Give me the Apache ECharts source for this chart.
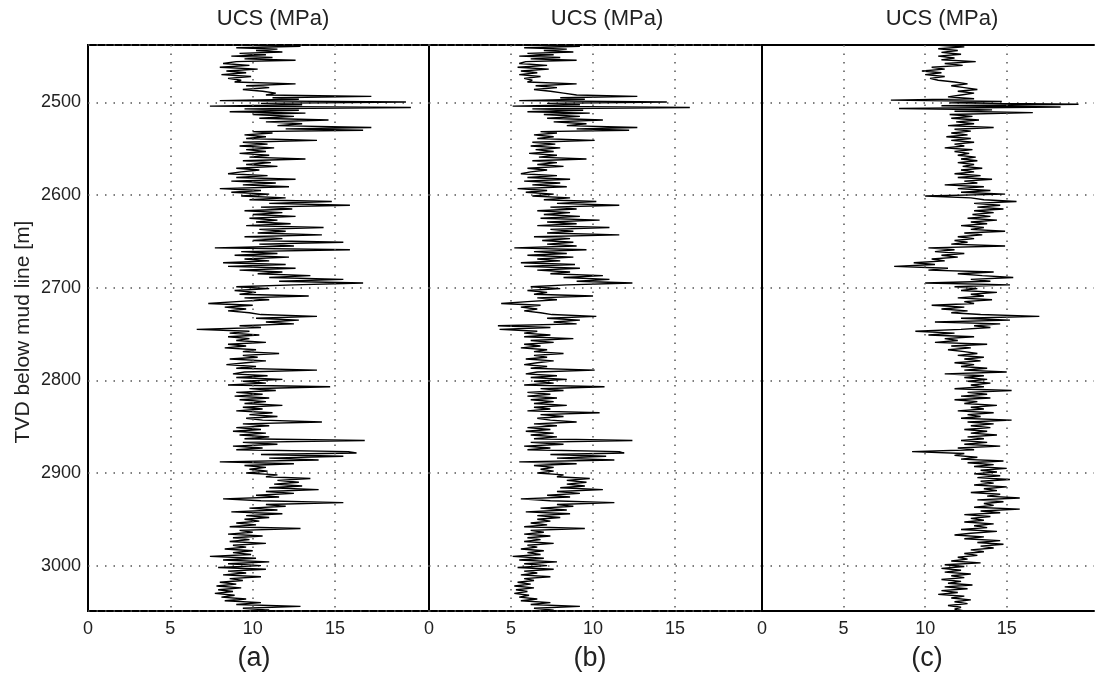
<!DOCTYPE html>
<html>
<head>
<meta charset="utf-8">
<script src="https://cdn.jsdelivr.net/npm/echarts@6/dist/echarts.min.js"></script>
<style>
html,body{margin:0;padding:0;background:#fff;}
#chart{width:1097px;height:675px;}
</style>
</head>
<body>
<div id="chart"></div>
<script>
// Depth (TVD below mud line, m) for panels (a) and (b)
var depthAB = [2438,2439.5,2441,2442.5,2444,2445.5,2447,2448.5,2450,2451.5,2453,2454.5,2456,2458,2460,2462,2464,2466,2468,2470,2472,2474,2476,2478,2480,2482,2484,2486,2488,2490,2492,2493.5,2495,2496.5,2498,2499.5,2501,2502.5,2504,2505.5,2507,2508.5,2510,2511.5,2513,2515,2517,2519,2521,2523,2525,2527,2528.5,2530,2531.5,2533,2535,2537,2539,2541,2543,2545,2547,2549,2551,2553,2555,2557,2559,2561,2563,2565,2567,2569,2571,2573,2575,2577,2579,2581,2583,2585,2587,2589,2591,2593,2595,2597,2599,2601,2603,2605,2607,2609,2611,2613,2615,2617,2619,2621,2623,2625,2627,2629,2631,2633,2635,2637,2639,2641,2643,2645,2647,2649,2651,2653,2655,2657,2659,2661,2663,2665,2667,2669,2671,2673,2675,2677,2679,2681,2683,2685,2687,2689,2691,2693,2695,2697,2699,2701,2703,2705,2707,2709,2711,2713,2715,2717,2719,2721,2723,2725,2727,2729,2731,2733,2735,2737,2739,2741,2743,2745,2747,2749,2751,2753,2755,2757,2759,2761,2763,2765,2767,2769,2771,2773,2775,2777,2779,2781,2783,2785,2787,2789,2791,2793,2795,2797,2799,2801,2803,2805,2807,2809,2811,2813,2815,2817,2819,2821,2823,2825,2827,2829,2831,2833,2835,2837,2839,2841,2843,2845,2847,2849,2851,2853,2855,2857,2859,2861,2863,2865,2867,2869,2871,2873,2875,2877,2878.5,2880,2882,2884,2886,2888,2890,2892,2894,2896,2898,2900,2902,2904,2906,2908,2910,2912,2914,2916,2918,2920,2922,2924,2926,2928,2930,2932,2934,2936,2938,2940,2942,2944,2946,2948,2950,2952,2954,2956,2958,2960,2962,2964,2966,2968,2970,2972,2974,2976,2978,2980,2982,2984,2986,2988,2990,2992,2994,2996,2998,3000,3002,3004,3006,3008,3010,3012,3014,3016,3018,3020,3022,3024,3026,3028,3030,3032,3034,3036,3038,3040,3042,3044,3046,3048,3049];

// UCS (MPa), panel (a)
var ucsA = [9.5,12.9,9.0,11.5,10.2,11.8,9.2,10.8,8.7,11.2,9.5,12.6,9.0,8.2,9.8,8.0,10.3,8.4,9.6,8.1,9.9,8.5,9.3,8.9,12.6,9.6,11.0,9.4,10.6,11.4,10.8,17.2,11.2,12.8,8.0,19.3,10.5,13.0,7.4,19.6,9.5,12.8,8.6,13.2,10.0,12.5,10.4,14.6,10.8,13.0,11.5,17.2,12.0,16.7,10.0,11.2,9.5,10.8,9.6,13.9,9.4,10.9,9.2,11.3,9.6,10.8,9.2,11.0,9.8,13.2,9.4,11.1,9.6,11.5,9.0,10.4,9.3,8.5,10.9,9.0,12.6,8.7,11.4,9.4,12.2,8.0,10.5,8.7,11.0,9.3,12.0,9.8,14.8,11.0,15.9,10.5,12.4,9.5,11.8,10.0,12.6,9.8,11.5,10.2,12.3,9.6,14.3,10.4,12.0,10.3,14.2,9.5,11.8,10.0,15.5,10.4,12.5,7.7,15.9,9.3,11.5,8.9,12.2,9.5,11.0,8.2,12.0,8.5,12.6,9.2,11.8,10.3,13.5,11.0,15.5,11.6,16.7,12.5,9.0,11.0,8.9,10.2,9.2,13.4,9.5,11.0,9.0,7.3,10.0,8.3,9.6,8.5,9.8,10.5,13.9,10.2,12.8,10.8,12.5,9.2,10.5,6.6,9.8,8.6,10.4,8.5,9.8,9.0,10.8,8.5,9.6,8.3,10.2,9.4,11.6,9.4,10.3,8.6,10.8,9.6,8.4,10.2,9.0,13.9,9.5,8.8,10.9,9.0,11.8,9.4,10.8,8.5,14.7,9.8,11.4,9.0,10.6,8.9,11.0,9.2,10.8,9.5,11.8,9.4,10.6,9.0,11.2,9.8,11.5,9.6,10.6,14.2,9.4,11.0,9.0,10.5,8.8,10.8,9.2,11.0,9.5,16.8,9.4,11.5,8.8,10.6,9.0,15.8,16.3,10.5,15.5,11.0,14.0,8.0,12.5,9.5,10.8,9.8,10.9,9.6,11.5,10.8,13.5,11.5,12.8,11.3,13.0,11.0,14.0,10.8,12.5,10.2,11.6,8.2,10.5,15.5,10.8,12.0,9.8,11.5,8.7,11.8,9.6,11.0,9.5,10.4,9.0,10.2,8.6,12.9,9.2,10.0,8.5,10.6,8.8,9.8,8.6,10.8,8.8,9.6,8.3,10.0,8.8,9.9,7.4,10.2,8.2,11.0,8.5,10.5,7.9,10.8,8.5,9.6,8.2,10.5,8.6,9.4,8.0,9.0,7.8,9.3,7.9,8.8,7.7,8.9,8.1,9.6,8.3,10.5,9.0,12.9,9.4,11.0,10.0];

// UCS (MPa), panel (b)
var ucsB = [6.2,9.2,5.8,8.4,7.0,8.8,6.0,7.6,5.5,8.0,6.2,9.0,5.9,5.5,7.2,5.4,7.3,5.6,6.6,5.5,6.8,5.8,6.3,6.0,9.0,6.5,7.8,6.4,7.4,8.2,9.0,12.7,8.0,9.5,5.5,14.5,7.2,9.2,5.1,15.9,6.3,9.4,6.0,9.8,7.0,9.2,7.2,10.6,7.6,9.6,8.4,12.7,9.0,12.2,6.8,7.8,6.4,7.6,6.6,10.1,6.3,7.7,6.2,8.0,6.5,7.6,6.1,7.8,6.7,9.6,6.3,7.8,6.6,8.2,6.0,7.2,6.2,5.6,7.8,6.0,8.6,5.8,8.0,6.3,8.4,5.4,7.2,5.9,7.6,6.3,8.6,7.0,10.2,7.8,11.6,7.4,9.0,6.6,8.6,7.0,9.2,6.8,10.4,7.2,9.0,6.6,11.0,7.4,8.8,7.2,11.6,6.4,8.6,6.9,8.8,7.2,9.0,5.2,9.6,6.4,8.4,6.0,8.8,6.6,8.0,5.6,8.9,5.8,9.2,6.6,8.6,7.4,10.6,8.2,11.0,9.0,12.4,8.4,6.2,8.0,6.0,7.2,6.4,10.0,6.6,7.8,6.0,4.4,6.8,5.6,6.6,5.8,6.8,7.5,10.2,7.2,9.2,7.6,9.0,4.2,7.4,4.3,6.6,5.8,7.4,5.8,8.8,6.2,7.6,5.8,6.8,5.6,7.2,6.4,8.2,6.4,7.2,5.9,7.6,6.6,5.8,7.2,6.2,10.1,6.6,5.9,7.8,6.2,8.4,6.4,7.6,5.8,10.7,6.8,8.2,6.0,7.4,6.0,7.8,6.2,7.6,6.4,8.4,6.4,7.4,6.0,10.4,6.8,8.2,6.6,7.4,9.0,6.4,7.8,6.0,7.4,5.9,7.6,6.2,7.8,6.4,12.4,6.2,8.2,5.8,7.4,6.0,11.6,11.9,7.4,10.8,7.8,11.3,5.5,9.0,6.4,7.6,6.8,7.6,6.6,8.2,7.8,9.8,8.4,9.6,8.4,9.5,8.0,10.6,7.8,9.2,7.2,8.6,5.6,7.4,11.3,7.8,8.8,6.8,8.4,5.9,8.6,6.6,8.0,6.6,7.4,6.2,7.2,5.8,9.5,6.2,7.0,5.8,7.4,6.0,6.8,5.8,7.6,6.0,6.6,5.6,7.0,6.0,6.8,5.1,7.0,5.5,7.8,5.8,7.2,5.4,7.6,5.8,6.6,5.6,7.4,5.8,6.4,5.4,6.2,5.2,6.4,5.3,6.0,5.2,6.1,5.5,6.6,5.6,7.4,6.2,9.2,6.4,7.6,7.0];

// Depth (m) for panel (c)
var depthC = [2438,2440,2442,2444,2446,2448,2450,2452,2454,2456,2458,2460,2462,2464,2466,2468,2470,2472,2474,2476,2478,2480,2482,2484,2486,2488,2490,2492,2494,2496,2497.5,2499,2500.5,2502,2503.5,2505,2506.5,2508,2509.5,2511,2513,2515,2517,2519,2521,2523,2525,2527,2529,2531,2533,2535,2537,2539,2541,2543,2545,2547,2549,2551,2553,2555,2557,2559,2561,2563,2565,2567,2569,2571,2573,2575,2577,2579,2581,2583,2585,2587,2589,2591,2593,2595,2597,2599,2601,2603,2605,2607,2609,2611,2613,2615,2617,2619,2621,2623,2625,2627,2629,2631,2633,2635,2637,2639,2641,2643,2645,2647,2649,2651,2653,2655,2657,2659,2661,2663,2665,2667,2669,2671,2673,2675,2677,2679,2681,2683,2685,2687,2689,2691,2693,2695,2697,2699,2701,2703,2705,2707,2709,2711,2713,2715,2717,2719,2721,2723,2725,2727,2729,2731,2733,2735,2737,2739,2741,2743,2745,2747,2749,2751,2753,2755,2757,2759,2761,2763,2765,2767,2769,2771,2773,2775,2777,2779,2781,2783,2785,2787,2789,2791,2793,2795,2797,2799,2801,2803,2805,2807,2809,2811,2813,2815,2817,2819,2821,2823,2825,2827,2829,2831,2833,2835,2837,2839,2841,2843,2845,2847,2849,2851,2853,2855,2857,2859,2861,2863,2865,2867,2869,2871,2873,2875,2877,2879,2881,2883,2885,2887,2889,2891,2893,2895,2897,2899,2901,2903,2905,2907,2909,2911,2913,2915,2917,2919,2921,2923,2925,2927,2929,2931,2933,2935,2937,2939,2941,2943,2945,2947,2949,2951,2953,2955,2957,2959,2961,2963,2965,2967,2969,2971,2973,2975,2977,2979,2981,2983,2985,2987,2989,2991,2993,2995,2997,2999,3001,3003,3005,3007,3009,3011,3013,3015,3017,3019,3021,3023,3025,3027,3029,3031,3033,3035,3037,3039,3041,3043,3045,3047,3049];

// UCS (MPa), panel (c)
var ucsC = [10.6,12.4,10.8,12.0,11.0,12.2,10.8,11.8,11.0,13.1,11.2,12.3,10.4,11.2,9.8,11.0,10.0,11.2,10.3,10.8,11.8,12.6,11.6,12.4,13.2,12.0,13.0,12.2,11.4,13.0,7.9,14.7,11.5,19.4,11.0,18.3,8.4,14.1,11.8,16.6,11.5,12.9,11.6,13.3,11.9,13.0,11.4,14.2,11.8,12.8,11.6,12.6,11.3,12.8,11.6,13.0,11.8,12.4,11.2,12.9,11.8,12.7,12.0,13.1,12.2,13.2,12.0,13.0,12.3,13.5,12.2,13.0,11.8,13.4,12.0,14.1,12.4,13.2,11.2,13.6,12.0,14.0,12.2,14.9,10.0,12.8,13.6,15.6,13.0,14.6,13.2,14.8,13.0,14.2,12.9,14.0,12.6,14.4,12.8,13.8,12.2,13.6,12.8,14.9,12.4,13.5,12.0,13.0,11.8,12.6,11.6,14.9,10.2,11.8,10.6,12.4,11.0,12.0,10.4,11.2,9.3,10.6,8.1,11.4,10.2,14.2,12.0,13.5,15.4,12.8,14.0,10.0,15.2,11.8,13.2,12.2,14.4,12.8,13.6,12.0,14.1,12.4,13.0,10.4,12.4,11.0,12.6,11.6,13.4,17.0,12.2,15.2,10.6,14.6,13.0,14.0,12.2,9.4,11.8,10.2,13.0,11.2,12.0,10.6,13.8,11.6,12.8,11.4,12.4,13.2,12.0,13.6,12.4,13.4,11.8,13.0,12.2,13.8,12.4,15.0,11.2,13.6,12.4,13.8,12.6,14.0,12.8,13.6,11.8,15.3,12.6,13.8,12.2,14.0,11.8,13.2,12.4,14.4,12.8,13.6,12.0,14.2,12.6,13.4,12.2,15.3,12.6,14.2,12.8,14.0,12.4,13.8,12.8,14.4,12.6,13.6,12.2,13.8,12.4,14.6,12.0,13.0,9.2,12.4,11.8,13.2,12.2,14.8,12.6,14.2,13.0,15.0,13.4,14.4,13.0,14.6,13.2,15.2,13.4,14.2,13.0,15.0,13.6,14.4,12.8,14.6,13.8,15.8,13.2,14.8,13.6,14.2,13.0,15.8,13.4,14.6,12.4,14.0,12.8,13.6,12.4,14.2,13.0,13.8,12.2,14.4,12.8,11.8,13.6,12.4,14.6,13.2,14.8,13.4,14.2,12.8,13.6,12.4,13.2,12.0,12.6,11.6,13.4,11.2,12.4,11.0,12.2,11.2,12.8,11.6,12.4,11.0,12.2,11.4,12.9,11.2,12.6,11.0,12.0,10.8,12.4,11.6,12.8,11.8,12.6,11.4,12.2,11.8,12.4];

// Axis settings
var depthRange = [2438, 3049];
var xGridValues = [5, 10, 15];
var panelTitles = ['UCS (MPa)', 'UCS (MPa)', 'UCS (MPa)'];
var panelLetters = ['(a)', '(b)', '(c)'];
var yAxisTitle = 'TVD below mud line [m]';

function zip(vals, deps) {
  var out = [];
  for (var i = 0; i < vals.length; i++) out.push([vals[i], deps[i]]);
  return out;
}

var FONT = 'Liberation Sans, Arial, sans-serif';
var FRAME = {show: true, onZero: false, lineStyle: {color: '#000', width: 2}};
var panels = [
  {left: 88, width: 341, max: 20.7, data: zip(ucsA, depthAB), titleX: 273, letterX: 254, box: true},
  {left: 429, width: 333, max: 20.3, data: zip(ucsB, depthAB), titleX: 607, letterX: 590, box: true},
  {left: 762, width: 334, max: 20.35, data: zip(ucsC, depthC), titleX: 942, letterX: 927, box: false}
];

var grids = [], xAxes = [], yAxes = [], series = [], graphics = [];
panels.forEach(function (p, i) {
  grids.push({left: p.left, width: p.width, top: 45, height: 566, show: p.box,
    borderColor: '#000', borderWidth: 2, backgroundColor: 'transparent'});
  xAxes.push({type: 'value', gridIndex: i, min: 0, max: p.max, splitNumber: 4, position: 'bottom',
    axisLine: p.box ? {show: false} : FRAME, axisTick: {show: false}, splitLine: {show: false},
    axisLabel: {margin: 9, color: '#222', fontSize: 18, fontFamily: FONT,
      formatter: function (v) { return (v % 5 === 0 && v < 20) ? String(v) : ''; }}});
  yAxes.push({type: 'value', gridIndex: i, inverse: true, min: depthRange[0], max: depthRange[1],
    splitNumber: 6, position: 'left',
    axisLine: p.box ? {show: false} : FRAME, axisTick: {show: false},
    splitLine: {show: true, lineStyle: {color: '#555', type: [1.5, 7], width: 1.5}},
    axisLabel: {show: i === 0, margin: 7, color: '#222', fontSize: 18, fontFamily: FONT,
      formatter: function (v) { return v % 100 === 0 ? String(v) : ''; }}});
  series.push({type: 'line', xAxisIndex: i, yAxisIndex: i, data: p.data, showSymbol: false,
    symbol: 'none', silent: true, animation: false,
    lineStyle: {color: '#000', width: 1.4},
    markLine: {silent: true, symbol: 'none', animation: false, label: {show: false},
      lineStyle: {color: '#555', type: [1.5, 7], width: 1.5},
      data: xGridValues.map(function (v) { return {xAxis: v}; })}});
  graphics.push({type: 'text', x: p.titleX, y: 19, style: {text: panelTitles[i], fill: '#222',
    font: '22px ' + FONT, textAlign: 'center', textVerticalAlign: 'middle'}});
  graphics.push({type: 'text', x: p.letterX, y: 659, style: {text: panelLetters[i], fill: '#222',
    font: '27px ' + FONT, textAlign: 'center', textVerticalAlign: 'middle'}});
});
// top frame line for panel (c), which runs off the right edge
xAxes.push({type: 'value', gridIndex: 2, min: 0, max: 20.35, position: 'top',
  axisLine: FRAME, axisTick: {show: false}, axisLabel: {show: false}, splitLine: {show: false}});
graphics.push({type: 'text', x: 23, y: 332, rotation: Math.PI / 2,
  style: {text: yAxisTitle, fill: '#222', font: '21px ' + FONT, textAlign: 'center', textVerticalAlign: 'middle'}});

var chart = echarts.init(document.getElementById('chart'), null, {renderer: 'canvas'});
chart.setOption({
  animation: false,
  backgroundColor: '#fff',
  grid: grids, xAxis: xAxes, yAxis: yAxes, series: series, graphic: graphics
});
</script>
</body>
</html>
